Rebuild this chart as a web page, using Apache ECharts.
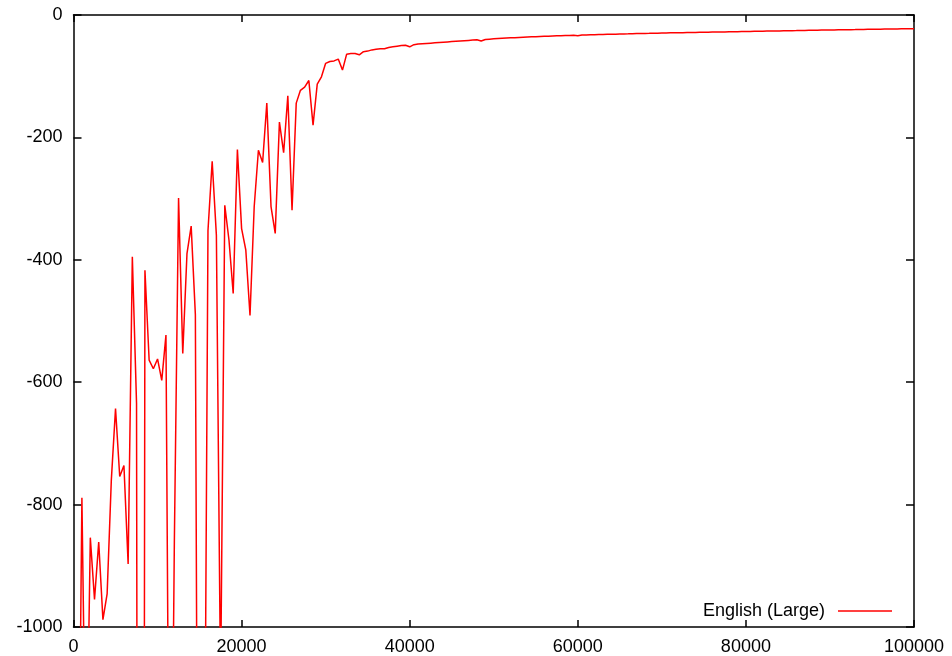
<!DOCTYPE html>
<html>
<head>
<meta charset="utf-8">
<title>English (Large)</title>
<script src="https://cdn.jsdelivr.net/npm/echarts@6/dist/echarts.min.js"></script>
<style>
  html, body { margin: 0; padding: 0; background: #fff; }
  #main { width: 952px; height: 656px; }
</style>
</head>
<body>
<div id="main"></div>
<script>
// sample spacing along x (one point every 500)
var xStep = 500;

// 500 .. 30000 : the noisy start (values below -1000 are cut off by the frame)
var earlyValues = [
  -1500, -789, -1300, -854, -955, -861, -988, -946, -760, -643,
  -754, -736, -897, -395, -635, -5000, -417, -564, -578, -562,
  -597, -523, -1600, -860, -299, -553, -390, -345, -490, -2200,
  -1530, -352, -239, -360, -1100, -311, -368, -455, -220, -349,
  -384, -491, -313, -221, -241, -144, -313, -357, -175, -225,
  -132, -319, -144, -123, -118, -107, -180, -113, -101, -79
];

// 30500 .. 100000 : the flat tail
var tailValues = [
  -76, -75, -72, -90, -64, -63, -63, -65, -60, -59,
  -57, -56, -55, -55, -53, -52, -51, -50, -49.5, -52,
  -48.5, -47.5, -47, -46.5, -46, -45.5, -45, -44.5, -44, -43.5,
  -43, -42.5, -42, -41.5, -41, -40.5, -42.5, -40, -39.5, -39,
  -38.5, -38, -37.5, -37.2, -37, -36.6, -36.3, -36, -35.7, -35.4,
  -35.1, -34.8, -34.6, -34.3, -34, -33.8, -33.6, -33.4, -33.2, -34,
  -32.8, -32.6, -32.4, -32.2, -32, -31.8, -31.6, -31.5, -31.3, -31.1,
  -30.9, -30.8, -30.6, -30.4, -30.3, -30.1, -30, -29.8, -29.7, -29.5,
  -29.4, -29.2, -29.1, -29, -28.8, -28.7, -28.6, -28.4, -28.3, -28.2,
  -28.1, -27.9, -27.8, -27.7, -27.6, -27.5, -27.4, -27.2, -27.1, -27,
  -26.8, -26.7, -26.6, -26.5, -26.3, -26.2, -26.1, -26, -25.8, -25.7,
  -25.6, -25.5, -25.3, -25.2, -25.1, -25, -24.8, -24.7, -24.6, -24.5,
  -24.4, -24.2, -24.1, -24, -23.9, -23.8, -23.6, -23.5, -23.4, -23.3,
  -23.2, -23.1, -23, -22.9, -22.8, -22.7, -22.6, -22.5, -22.4, -22.3
];

var seriesName = 'English (Large)';
var xTicks = [0, 20000, 40000, 60000, 80000, 100000];
var yTicks = [-1000, -800, -600, -400, -200, 0];

var myChart = echarts.init(document.getElementById('main'));

var yValues = earlyValues.concat(tailValues);
var points = yValues.map(function (v, i) {
  return [(i + 1) * xStep, v];
});

var font = 'Liberation Sans, Arial, Helvetica, sans-serif';
var black = { color: '#000', width: 1.5 };

function plain(v) { return String(v); }

function xAxisDef(pos, labels) {
  return {
    type: 'value',
    position: pos,
    min: xTicks[0],
    max: xTicks[xTicks.length - 1],
    interval: xTicks[1] - xTicks[0],
    axisLine: { show: true, onZero: false, lineStyle: black },
    axisTick: { show: true, inside: true, length: 7, lineStyle: black },
    axisLabel: { show: labels, color: '#000', fontSize: 18, fontFamily: font, margin: 11, formatter: plain },
    splitLine: { show: false }
  };
}

function yAxisDef(pos, labels) {
  return {
    type: 'value',
    position: pos,
    min: yTicks[0],
    max: yTicks[yTicks.length - 1],
    interval: yTicks[1] - yTicks[0],
    axisLine: { show: true, onZero: false, lineStyle: black },
    axisTick: { show: true, inside: true, length: 8, lineStyle: black },
    axisLabel: { show: labels, color: '#000', fontSize: 18, fontFamily: font, margin: 11, formatter: plain },
    splitLine: { show: false }
  };
}

var option = {
  animation: false,
  backgroundColor: '#fff',
  grid: { left: 73.5, right: 38, top: 15, bottom: 29, containLabel: false },
  legend: {
    data: [{ name: seriesName, icon: 'rect' }],
    right: 60,
    top: 602,
    padding: 0,
    align: 'right',
    itemWidth: 54,
    itemHeight: 1.5,
    itemStyle: { color: '#ff0000' },
    textStyle: { color: '#000', fontSize: 18, fontFamily: font, padding: [0, 8, 0, 0] }
  },
  xAxis: [xAxisDef('bottom', true), xAxisDef('top', false)],
  yAxis: [yAxisDef('left', true), yAxisDef('right', false)],
  series: [
    {
      name: seriesName,
      type: 'line',
      xAxisIndex: 0,
      yAxisIndex: 0,
      data: points,
      symbol: 'none',
      clip: true,
      lineStyle: { color: '#ff0000', width: 1.5 },
      itemStyle: { color: '#ff0000' }
    }
  ]
};

myChart.setOption(option);
</script>
</body>
</html>
